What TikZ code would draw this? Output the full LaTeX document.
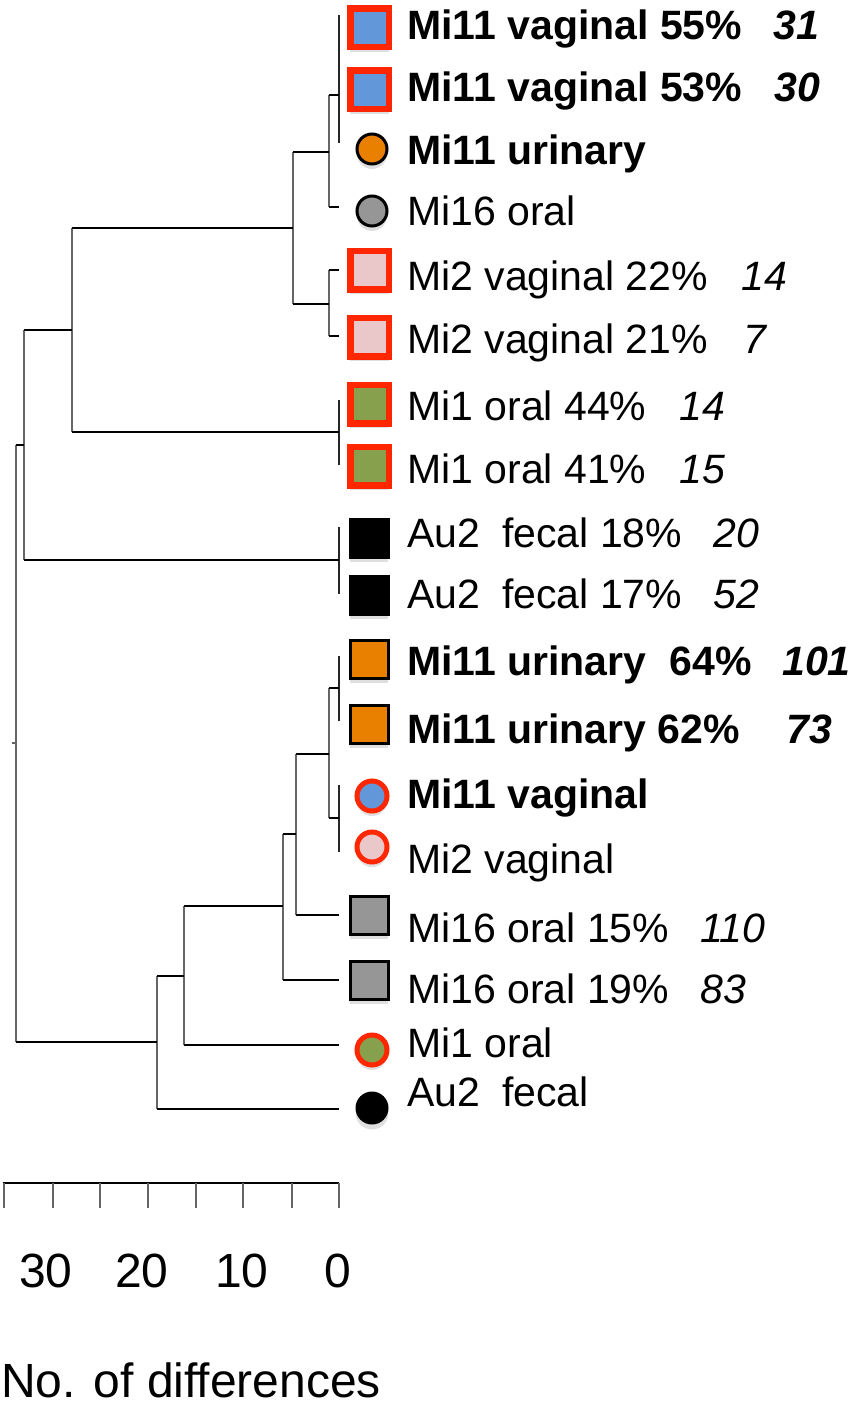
\documentclass[tikz,border=0pt]{standalone}
\usepackage{fontspec}
\setmainfont{Liberation Sans}
\usetikzlibrary{shadows}
\definecolor{redb}{RGB}{255,38,0}
\definecolor{blueF}{RGB}{98,152,218}
\definecolor{pinkF}{RGB}{234,200,202}
\definecolor{greenF}{RGB}{134,160,78}
\definecolor{orangeF}{RGB}{234,128,0}
\definecolor{grayF}{RGB}{150,150,150}
\begin{document}
\begin{tikzpicture}[x=1pt,y=-1pt,
  hline/.style={line width=2.3pt, black},
  vline/.style={line width=1.6pt, black!60},
  shad/.style={drop shadow={shadow xshift=0pt, shadow yshift=-5pt, opacity=0.25}},
  rsq/.style={shad, rectangle, draw=redb, line width=6.5pt, minimum size=38.5pt, inner sep=0pt},
  ksq/.style={shad, rectangle, draw=black, line width=3pt, minimum size=38pt, inner sep=0pt},
  rci/.style={shad, circle, draw=redb, line width=5pt, minimum size=30pt, inner sep=0pt},
  kci/.style={shad, circle, draw=black, line width=3pt, minimum size=30pt, inner sep=0pt},
  lab/.style={anchor=base west, inner sep=0pt, font=\fontsize{41}{48}\selectfont},
  blab/.style={lab, font=\fontsize{41}{48}\selectfont\bfseries},
  num/.style={lab, font=\fontsize{41}{48}\selectfont\itshape},
  bnum/.style={lab, font=\fontsize{41}{48}\selectfont\bfseries\itshape},
  axlab/.style={anchor=base, inner sep=0pt, font=\fontsize{48}{56}\selectfont}
]
\useasboundingbox (0,0) rectangle (852,1407);

% ---------- tree coordinates ----------
\coordinate (t1) at (339,15);
\coordinate (t3) at (339,143);
\coordinate (c123) at (339,95);
\coordinate (t4) at (339,207);
\coordinate (n4) at (329,152);
\coordinate (t5) at (339,270);
\coordinate (t6) at (339,336);
\coordinate (n5) at (329,304);
\coordinate (n6) at (293,228);
\coordinate (t7) at (339,400);
\coordinate (t8) at (339,465);
\coordinate (c78) at (339,432);
\coordinate (n7) at (72,330);
\coordinate (t9) at (339,527);
\coordinate (t10) at (339,594);
\coordinate (c910) at (339,560);
\coordinate (n8) at (24,445);
\coordinate (t11) at (339,656);
\coordinate (t12) at (339,721);
\coordinate (c1112) at (339,688);
\coordinate (t13) at (339,785);
\coordinate (t14) at (339,852);
\coordinate (c1314) at (339,818);
\coordinate (m1) at (329,754);
\coordinate (t15) at (339,915);
\coordinate (m2) at (296,834);
\coordinate (t16) at (339,980);
\coordinate (m3) at (283,906);
\coordinate (t17) at (339,1045);
\coordinate (m4) at (184,976);
\coordinate (t18) at (339,1109);
\coordinate (m5) at (157,1042);
\coordinate (root) at (16,743);
\coordinate (rootstub) at (12,743);

% zero-length tip clusters
\draw[vline, black!85] (t1) -- (t3);
\draw[vline, black!85] (t7) -- (t8);
\draw[vline, black!85] (t9) -- (t10);
\draw[vline, black!85] (t11) -- (t12);
\draw[vline, black!85] (t13) -- (t14);

% vertical parts of internal nodes
\foreach \p/\a/\b in {n4/c123/t4, n5/t5/t6, n6/n4/n5, n7/n6/c78, n8/n7/c910,
                      m1/c1112/c1314, m2/m1/t15, m3/m2/t16, m4/m3/t17, m5/m4/t18, root/n8/m5}
  \draw[vline] (\p |- \a) -- (\p |- \b);

% horizontal parts
\foreach \p/\c in {n4/c123, n4/t4, n5/t5, n5/t6, n6/n4, n6/n5, n7/n6, n7/c78, n8/n7, n8/c910,
                   m1/c1112, m1/c1314, m2/m1, m2/t15, m3/m2, m3/t16, m4/m3, m4/t17, m5/m4, m5/t18, root/n8, root/m5}
  \draw[hline] (\p |- \c) -- (\c);
\draw[vline] (rootstub) -- (root);

% ---------- symbols ----------
\node[rsq, fill=blueF]   (s1)  at (369.5,28) {};
\node[rsq, fill=blueF]   (s2)  at (369.5,90) {};
\node[kci, fill=orangeF] (s3)  at (372,149) {};
\node[kci, fill=grayF]   (s4)  at (372,211) {};
\node[rsq, fill=pinkF]   (s5)  at (369.5,270) {};
\node[rsq, fill=pinkF]   (s6)  at (369.5,337) {};
\node[rsq, fill=greenF]  (s7)  at (369.5,404) {};
\node[rsq, fill=greenF]  (s8)  at (369.5,466) {};
\node[ksq, fill=black]   (s9)  at (369,538) {};
\node[ksq, fill=black]   (s10) at (369,595) {};
\node[ksq, fill=orangeF] (s11) at (369,659) {};
\node[ksq, fill=orangeF] (s12) at (369,724) {};
\node[rci, fill=blueF]   (s13) at (372,796) {};
\node[rci, fill=pinkF]   (s14) at (372,847) {};
\node[ksq, fill=grayF]   (s15) at (369,915) {};
\node[ksq, fill=grayF]   (s16) at (369,980) {};
\node[rci, fill=greenF]  (s17) at (372,1050) {};
\node[shad, circle, fill=black, minimum size=33pt, inner sep=0pt] (s18) at (372,1108) {};

% ---------- labels ----------
\node[blab] (l1)  at (407,40)   {Mi11 vaginal 55\%};
\node[bnum] (d1)  at (773,40)   {31};
\node[blab] (l2)  at (407,102)  {Mi11 vaginal 53\%};
\node[bnum] (d2)  at (774,102)  {30};
\node[blab] (l3)  at (407,165)  {Mi11 urinary};
\node[lab]  (l4)  at (407,225)  {Mi16 oral};
\node[lab]  (l5)  at (407,290)  {Mi2 vaginal 22\%};
\node[num]  (d5)  at (741,290)  {14};
\node[lab]  (l6)  at (407,353)  {Mi2 vaginal 21\%};
\node[num]  (d6)  at (743,353)  {7};
\node[lab]  (l7)  at (407,420)  {Mi1 oral 44\%};
\node[num]  (d7)  at (679,420)  {14};
\node[lab]  (l8)  at (407,483)  {Mi1 oral 41\%};
\node[num]  (d8)  at (679,483)  {15};
\node[lab]  (l9)  at (407,547)  {Au2\hspace{22pt}fecal 18\%};
\node[num]  (d9)  at (713,547)  {20};
\node[lab]  (l10) at (407,608)  {Au2\hspace{22pt}fecal 17\%};
\node[num]  (d10) at (713,608)  {52};
\node[blab] (l11) at (407,675)  {Mi11 urinary\hspace{23pt}64\%};
\node[bnum] (d11) at (782,675)  {101};
\node[blab] (l12) at (407,743)  {Mi11 urinary 62\%};
\node[bnum] (d12) at (786,743)  {73};
\node[blab] (l13) at (407,808)  {Mi11 vaginal};
\node[lab]  (l14) at (407,873)  {Mi2 vaginal};
\node[lab]  (l15) at (407,942)  {Mi16 oral 15\%};
\node[num]  (d15) at (700,942)  {110};
\node[lab]  (l16) at (407,1003) {Mi16 oral 19\%};
\node[num]  (d16) at (700,1003) {83};
\node[lab]  (l17) at (407,1057) {Mi1 oral};
\node[lab]  (l18) at (407,1106) {Au2\hspace{22pt}fecal};

% ---------- scale bar ----------
\coordinate (sbR) at (339,1183);
\coordinate (sbL) at (3,1183);
\draw[hline] (sbL) -- (sbR);
\foreach \x in {4,53,100,148,196,243,292,339}
  \draw[line width=1.5pt, black!60] (\x,1183) -- (\x,1208);
\node[axlab] (a30) at (46,1287)  {30};
\node[axlab] (a20) at (142,1287) {20};
\node[axlab] (a10) at (242,1287) {10};
\node[axlab] (a0)  at (338,1287) {0};
\node[anchor=base west, inner sep=0pt, font=\fontsize{48}{56}\selectfont] (xt) at (1,1397) {No. of differences};
\end{tikzpicture}
\end{document}
